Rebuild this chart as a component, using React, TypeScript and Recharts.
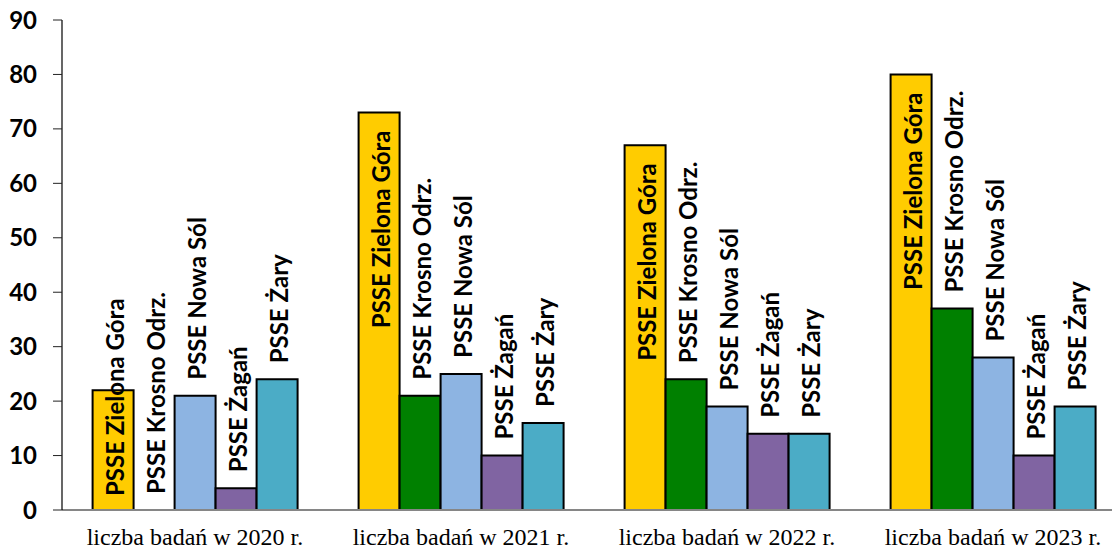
import React from "react";
import { BarChart, Bar, XAxis, YAxis, LabelList, Cell } from "recharts";

const categories = [
  "liczba badań w 2020 r.",
  "liczba badań w 2021 r.",
  "liczba badań w 2022 r.",
  "liczba badań w 2023 r.",
];

const zielonaGora = [22, 73, 67, 80];
const krosnoOdrz = [0, 21, 24, 37];
const nowaSol = [21, 25, 19, 28];
const zagan = [4, 10, 14, 10];
const zary = [24, 16, 14, 19];

const yTicks = [0, 10, 20, 30, 40, 50, 60, 70, 80, 90];
const edgeTicks = [0, 1, 2, 3, 4];

const series = [
  { key: "zg", name: "PSSE Zielona Góra", values: zielonaGora, color: "#FFCC00" },
  { key: "ko", name: "PSSE Krosno Odrz.", values: krosnoOdrz, color: "#008000" },
  { key: "ns", name: "PSSE Nowa Sól", values: nowaSol, color: "#8DB4E2" },
  { key: "zgn", name: "PSSE Żagań", values: zagan, color: "#8064A2" },
  { key: "zr", name: "PSSE Żary", values: zary, color: "#4BACC6" },
];

const data = categories.map((cat, i) => {
  const row: Record<string, string | number> = { cat };
  series.forEach((s) => {
    row[s.key] = s.values[i];
  });
  return row;
});

const LABEL_FONT = "Lato, 'Open Sans', sans-serif";

// rotated series name: inside the top of a tall first bar, otherwise above the bar
function makeLabel(name: string, first: boolean) {
  return (props: any) => {
    const x = Number(props.x);
    const w = Number(props.width);
    const top = Number(props.y);
    const h = Number(props.height) || 0;
    const bottom = top + h;
    const cx = x + w / 2 + 11;
    let ty = top - 16;
    let anchor: "start" | "end" = "start";
    if (first) {
      if (h > 240) {
        ty = top + 18;
        anchor = "end";
      } else {
        ty = bottom - 14;
      }
    }
    return (
      <text
        transform={`translate(${cx},${ty}) rotate(-90)`}
        textAnchor={anchor}
        fontFamily={LABEL_FONT}
        fontWeight={700}
        fontSize={24}
        fill="#000"
      >
        {name}
      </text>
    );
  };
}

export default function App() {
  return (
    <div
      style={{
        position: "absolute",
        left: 0,
        top: 0,
        width: 1112,
        height: 549,
        overflow: "hidden",
        background: "#fff",
      }}
    >
      <BarChart
        width={1130}
        height={549}
        data={data}
        margin={{ top: 20, right: 4, bottom: 0, left: 0 }}
        barCategoryGap="11.5%"
        barGap={0}
      >
        <XAxis
          xAxisId="edge"
          type="number"
          domain={[0, 4]}
          ticks={edgeTicks}
          allowDataOverflow
          height={1}
          tick={false}
          axisLine={false}
          tickSize={6}
          tickLine={{ stroke: "#868686", strokeWidth: 1 }}
        />
        <XAxis
          xAxisId="cat"
          dataKey="cat"
          height={38}
          tickLine={false}
          axisLine={{ stroke: "#868686", strokeWidth: 2 }}
          tickSize={6}
          tickMargin={12}
          interval={0}
          tick={{ fill: "#000", fontSize: 24, fontFamily: "'Liberation Serif', 'Times New Roman', serif" }}
        />
        <YAxis
          width={62}
          domain={[0, 90]}
          ticks={yTicks}
          interval={0}
          tickSize={9}
          tickMargin={16}
          tickLine={{ stroke: "#222" }}
          axisLine={{ stroke: "#000", strokeWidth: 1.2 }}
          tick={{ fill: "#000", fontSize: 24, fontWeight: 700, fontFamily: LABEL_FONT }}
        />
        {series.map((s, i) => (
          <Bar
            key={s.key}
            xAxisId="cat"
            dataKey={s.key}
            fill={s.color}
            stroke="#000"
            strokeWidth={2}
            minPointSize={0.01}
            isAnimationActive={false}
          >
            {s.values.map((v, j) => (
              <Cell
                key={j}
                fill={v === 0 ? "none" : s.color}
                stroke={v === 0 ? "none" : "#000"}
              />
            ))}
            <LabelList dataKey={s.key} content={makeLabel(s.name, i === 0)} />
          </Bar>
        ))}
      </BarChart>
    </div>
  );
}
